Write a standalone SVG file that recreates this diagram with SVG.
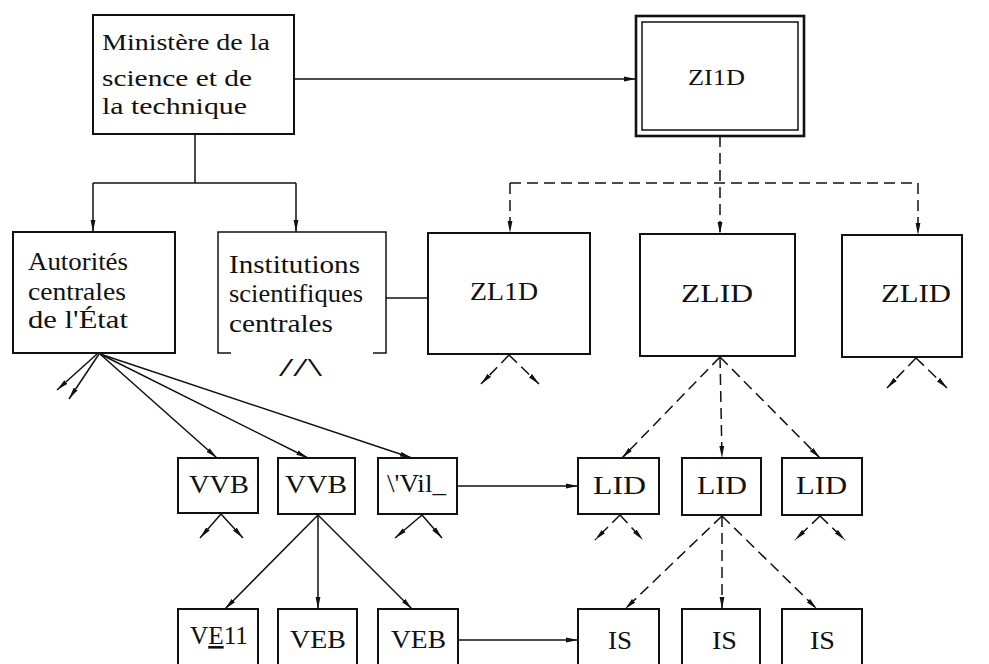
<svg xmlns="http://www.w3.org/2000/svg" width="989" height="664" viewBox="0 0 989 664">
<style>
.box{fill:#fff;stroke:#111;stroke-width:2}
.t{font-family:"Liberation Serif","Times New Roman",serif;font-size:26px;fill:#111}
.m{font-family:"Liberation Serif","Times New Roman",serif;font-size:24px;fill:#111}
.lb{font-family:"Liberation Serif","Times New Roman",serif;font-size:26px;fill:#111}
.c{fill:none;stroke:#111;stroke-width:1.5}
.d{fill:none;stroke:#111;stroke-width:1.5;stroke-dasharray:11,6}
.a{marker-end:url(#ah)}
</style>
<defs>
<marker id="ah" viewBox="0 0 12 6" refX="12" refY="3" markerWidth="12" markerHeight="6" markerUnits="userSpaceOnUse" orient="auto"><path d="M0,0.6 L12,3 L0,5.4 z" fill="#111"/></marker>
</defs>
<rect width="989" height="664" fill="#fff"/>
<g id="connectors">
<path class="c" d="M195,134 V183 M93,183 H296"/>
<path class="c a" d="M93,183 V232"/>
<path class="c a" d="M296,183 V232"/>
<path class="c a" d="M294,79 H636"/>
<path class="c" d="M386,298 H428"/>
<path class="d a" d="M720,136 V234"/>
<path class="d" d="M510,183 H918"/>
<path class="d a" d="M510,183 V233"/>
<path class="d a" d="M918,183 V235"/>
<path class="d a" d="M509,355 L481,384"/>
<path class="d a" d="M509,355 L539,384"/>
<path class="d a" d="M916,358 L887,388"/>
<path class="d a" d="M916,358 L947,388"/>
<path class="d a" d="M720,357 L622,458"/>
<path class="d a" d="M720,357 L722,458"/>
<path class="d a" d="M720,357 L820,458"/>
<path class="d a" d="M620,515 L595,540"/>
<path class="d a" d="M620,515 L643,540"/>
<path class="d a" d="M820,516 L795,540"/>
<path class="d a" d="M820,516 L845,540"/>
<path class="d a" d="M722,516 L625,609"/>
<path class="d a" d="M722,516 L722,609"/>
<path class="d a" d="M722,516 L817,609"/>
<path class="c a" d="M97,354 L57,390"/>
<path class="c a" d="M99,354 L69,399"/>
<path class="c a" d="M100,354 L217,458"/>
<path class="c a" d="M100,354 L308,458"/>
<path class="c a" d="M100,354 L412,458"/>
<path class="c a" d="M221,514 L200,538"/>
<path class="c a" d="M221,514 L243,538"/>
<path class="c a" d="M422,515 L395,538"/>
<path class="c a" d="M422,515 L442,538"/>
<path class="c a" d="M318,515 L225,609"/>
<path class="c a" d="M318,515 L318,609"/>
<path class="c a" d="M318,515 L412,609"/>
<path class="c a" d="M457,486 H578"/>
<path class="c a" d="M458,640 H578"/>
</g>
<g id="n-ministere">
<rect class="box" x="93" y="15" width="201" height="119"/>
<text class="m" x="102" y="50" textLength="168" lengthAdjust="spacingAndGlyphs">Ministère de la</text>
<text class="m" x="102" y="86" textLength="150" lengthAdjust="spacingAndGlyphs">science et de</text>
<text class="m" x="102" y="114" textLength="145" lengthAdjust="spacingAndGlyphs">la technique</text>
</g>
<g id="n-zi1d">
<rect x="636" y="16" width="168" height="120" fill="#fff" stroke="#111" stroke-width="2.6"/>
<rect x="642" y="22" width="156" height="108" fill="none" stroke="#111" stroke-width="1.5"/>
<text class="lb" x="688" y="85" textLength="57" lengthAdjust="spacingAndGlyphs" style="font-size:23px">ZI1D</text>
</g>
<g id="n-autorites">
<rect class="box" x="13" y="232" width="162" height="121"/>
<text class="t" x="28" y="270" textLength="100" lengthAdjust="spacingAndGlyphs">Autorités</text>
<text class="t" x="28" y="300" textLength="98" lengthAdjust="spacingAndGlyphs">centrales</text>
<text class="t" x="28" y="328" textLength="100" lengthAdjust="spacingAndGlyphs">de l'État</text>
</g>
<g id="n-institutions">
<rect x="218" y="232" width="168" height="121" fill="#fff"/>
<path class="c" stroke-width="2" d="M231,353 H218 V232 H386 V353 H373"/>
<text class="t" x="229" y="273" textLength="131" lengthAdjust="spacingAndGlyphs">Institutions</text>
<text class="t" x="229" y="302" textLength="134" lengthAdjust="spacingAndGlyphs">scientifiques</text>
<text class="t" x="229" y="332" textLength="104" lengthAdjust="spacingAndGlyphs">centrales</text>
<text class="t" x="279" y="376" textLength="43" lengthAdjust="spacingAndGlyphs">//\</text>
</g>
<g id="n-zl1d">
<rect class="box" x="428" y="233" width="162" height="121"/>
<text class="lb" x="470" y="300" textLength="68" lengthAdjust="spacingAndGlyphs">ZL1D</text>
</g>
<g id="n-zlid-mid">
<rect class="box" x="640" y="234" width="155" height="122"/>
<text class="lb" x="681" y="302" textLength="72" lengthAdjust="spacingAndGlyphs">ZLID</text>
</g>
<g id="n-zlid-right">
<rect class="box" x="842" y="235" width="120" height="122"/>
<text class="lb" x="881" y="302" textLength="70" lengthAdjust="spacingAndGlyphs">ZLID</text>
</g>
<g id="n-vvb1">
<rect class="box" x="178" y="458" width="80" height="55"/>
<text class="lb" x="189" y="493" textLength="60" lengthAdjust="spacingAndGlyphs">VVB</text>
</g>
<g id="n-vvb2">
<rect class="box" x="278" y="458" width="77" height="56"/>
<text class="lb" x="285" y="493" textLength="62" lengthAdjust="spacingAndGlyphs">VVB</text>
</g>
<g id="n-vil">
<rect class="box" x="378" y="458" width="79" height="56"/>
<text class="lb" x="387" y="492" textLength="59" lengthAdjust="spacingAndGlyphs">\'Vil_</text>
</g>
<g id="n-lid1">
<rect class="box" x="578" y="458" width="81" height="56"/>
<text class="lb" x="593" y="494" textLength="53" lengthAdjust="spacingAndGlyphs">LID</text>
</g>
<g id="n-lid2">
<rect class="box" x="682" y="458" width="79" height="57"/>
<text class="lb" x="697" y="494" textLength="50" lengthAdjust="spacingAndGlyphs">LID</text>
</g>
<g id="n-lid3">
<rect class="box" x="782" y="458" width="80" height="57"/>
<text class="lb" x="796" y="494" textLength="51" lengthAdjust="spacingAndGlyphs">LID</text>
</g>
<g id="n-ve11">
<rect class="box" x="178" y="609" width="80" height="70"/>
<text class="lb" x="190" y="644" textLength="58" lengthAdjust="spacingAndGlyphs" fill="#555">V<tspan text-decoration="underline">E</tspan>11</text>
</g>
<g id="n-veb2">
<rect class="box" x="278" y="609" width="79" height="70"/>
<text class="lb" x="290" y="648" textLength="56" lengthAdjust="spacingAndGlyphs">VEB</text>
</g>
<g id="n-veb3">
<rect class="box" x="378" y="609" width="80" height="70"/>
<text class="lb" x="391" y="648" textLength="55" lengthAdjust="spacingAndGlyphs">VEB</text>
</g>
<g id="n-is1">
<rect class="box" x="578" y="609" width="81" height="70"/>
<text class="lb" x="608" y="649" textLength="24" lengthAdjust="spacingAndGlyphs">IS</text>
</g>
<g id="n-is2">
<rect class="box" x="682" y="609" width="78" height="70"/>
<text class="lb" x="712" y="649" textLength="25" lengthAdjust="spacingAndGlyphs">IS</text>
</g>
<g id="n-is3">
<rect class="box" x="782" y="609" width="80" height="70"/>
<text class="lb" x="810" y="649" textLength="25" lengthAdjust="spacingAndGlyphs">IS</text>
</g>
</svg>
